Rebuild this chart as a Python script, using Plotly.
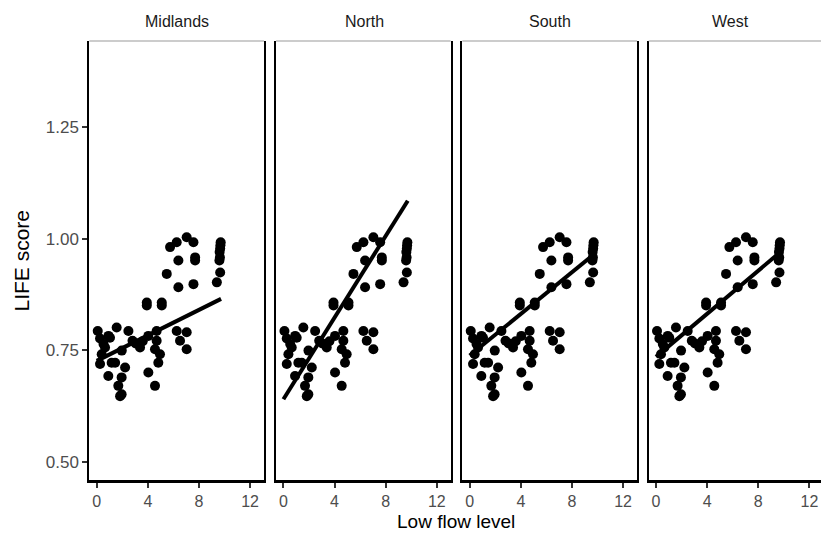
import plotly.graph_objects as go

# Observations: low flow level vs LIFE score (shown in every regional panel)
low_flow = [0.08, 1.56, 2.48, 1.04, 0.26, 0.65, 0.39, 0.26, 1.17, 0.91,
            2.22, 1.95, 1.69, 1.95, 1.83, 1.44, 0.53, 1.96, 0.92, 2.80,
            3.05, 3.39, 3.60, 4.04, 4.69, 4.69, 4.56, 4.95, 4.82, 4.04,
            4.56, 6.26, 7.04, 6.52, 7.04,
            3.92, 3.92, 5.09, 5.09, 5.48, 6.39, 6.39, 7.57, 7.70, 7.70,
            5.74, 6.26, 7.04, 7.57, 9.70, 9.68, 9.66, 9.62, 9.64, 9.60,
            9.66, 9.40]
life_score = [0.793, 0.801, 0.793, 0.778, 0.776, 0.756, 0.741, 0.719, 0.722, 0.692,
              0.711, 0.689, 0.670, 0.651, 0.647, 0.722, 0.764, 0.749, 0.782, 0.771,
              0.765, 0.756, 0.770, 0.782, 0.793, 0.771, 0.752, 0.741, 0.722, 0.700,
              0.670, 0.793, 0.790, 0.771, 0.752,
              0.857, 0.850, 0.857, 0.850, 0.921, 0.951, 0.891, 0.898, 0.958, 0.951,
              0.981, 0.992, 1.003, 0.992, 0.992, 0.985, 0.978, 0.970, 0.958, 0.951,
              0.924, 0.902]

# Fitted lines per region: value at low flow 0 and at the largest low flow
regions = ["Midlands", "North", "South", "West"]
fit_start = [0.726, 0.640, 0.738, 0.735]
fit_end = [0.865, 1.085, 0.965, 0.970]
fit_x = [0.0, 9.73]

y_ticks = [0.50, 0.75, 1.00, 1.25]
x_ticks = [0, 4, 8, 12]

W, H = 821, 533
panel_left = [89.3, 276.0, 462.3, 648.6]
panel_width = 174.7
top_px, bottom_px = 41.0, 480.0
x_range = [-0.58, 13.09]
y_range = [0.459, 1.443]

fig = go.Figure()
font = "Liberation Sans, Arial, sans-serif"
label_centers = [176.5, 364.0, 549.7, 730.0]

for i, region in enumerate(regions):
    n = "" if i == 0 else str(i + 1)
    left = panel_left[i]
    right = min(left + panel_width, W)
    clipped = right < left + panel_width
    xr = [x_range[0], x_range[0] + (x_range[1] - x_range[0]) * (right - left) / panel_width]
    fig.add_trace(go.Scatter(
        x=low_flow, y=life_score, mode="markers",
        marker=dict(color="black", size=10, line=dict(width=0)),
        xaxis="x" + n, yaxis="y" + n, showlegend=False, hoverinfo="skip"))
    fig.add_trace(go.Scatter(
        x=fit_x, y=[fit_start[i], fit_end[i]], mode="lines",
        line=dict(color="black", width=4),
        xaxis="x" + n, yaxis="y" + n, showlegend=False, hoverinfo="skip"))
    fig.layout["xaxis" + n] = dict(
        domain=[left / W, right / W], range=xr, anchor="y" + n,
        tickvals=x_ticks, ticks="outside", ticklen=5, tickcolor="#333333", tickwidth=1.5,
        tickfont=dict(family=font, size=16, color="#4d4d4d"),
        showline=True, linecolor="black", linewidth=2.5,
        showgrid=False, zeroline=False, fixedrange=True)
    fig.layout["yaxis" + n] = dict(
        domain=[1 - bottom_px / H, 1 - top_px / H], range=y_range, anchor="x" + n,
        tickvals=y_ticks, ticktext=[f"{v:.2f}" for v in y_ticks],
        ticks="outside" if i == 0 else "", ticklen=5, tickcolor="#333333", tickwidth=1.5,
        showticklabels=(i == 0),
        tickfont=dict(family=font, size=17, color="#4d4d4d"),
        showline=True, linecolor="black", linewidth=2, mirror=not clipped,
        showgrid=False, zeroline=False, fixedrange=True)
    # thin grey top edge of the panel
    fig.add_shape(type="line", xref="paper", yref="paper",
                  x0=left / W, x1=right / W, y0=1 - top_px / H, y1=1 - top_px / H,
                  line=dict(color="#9a9a9a", width=1.2))
    fig.add_annotation(text=region, x=label_centers[i] / W, y=1 - 21 / H,
                       xref="paper", yref="paper",
                       showarrow=False, xanchor="center", yanchor="middle",
                       font=dict(family=font, size=16, color="#1a1a1a"))

fig.add_annotation(text="Low flow level", x=456 / W, y=1 - 521.5 / H, xref="paper", yref="paper",
                   showarrow=False, xanchor="center", yanchor="middle",
                   font=dict(family=font, size=19, color="black"))
fig.add_annotation(text="LIFE score", x=21 / W, y=1 - 260.5 / H, xref="paper", yref="paper",
                   showarrow=False, textangle=-90, xanchor="center", yanchor="middle",
                   font=dict(family=font, size=21, color="black"))

fig.update_layout(width=W, height=H, margin=dict(l=0, r=0, t=0, b=0),
                  paper_bgcolor="white", plot_bgcolor="white")

fig.write_html("out.html")
